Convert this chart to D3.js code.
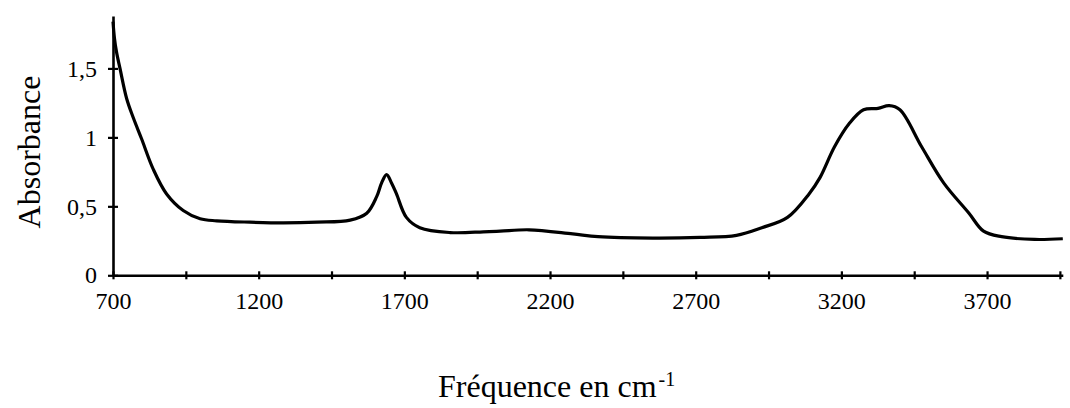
<!DOCTYPE html>
<html>
<head>
<meta charset="utf-8">
<script src="https://cdn.jsdelivr.net/npm/d3@7"></script>
<style>
  html, body { margin: 0; padding: 0; background: #fff; }
  svg { display: block; }
  text { font-family: "Liberation Serif", "Times New Roman", serif; fill: #000; }
</style>
</head>
<body>
<svg id="chart" width="1070" height="408"></svg>
<script>
// Wavenumber (cm-1) and absorbance values
const frequency = [700, 705, 712, 724, 747, 770, 798, 838, 884, 941, 999, 1056, 1170, 1285, 1400, 1514, 1571, 1605, 1622, 1639, 1656, 1673, 1707, 1753, 1857, 1971, 2029, 2128, 2278, 2365, 2553, 2715, 2840, 2927, 3015, 3089, 3127, 3176, 3227, 3276, 3326, 3364, 3401, 3476, 3551, 3638, 3688, 3750, 3863, 3960];
const absorbance = [1.84, 1.72, 1.62, 1.50, 1.28, 1.14, 0.99, 0.77, 0.59, 0.47, 0.41, 0.395, 0.385, 0.38, 0.385, 0.40, 0.45, 0.57, 0.67, 0.73, 0.67, 0.59, 0.42, 0.345, 0.31, 0.315, 0.32, 0.33, 0.30, 0.28, 0.27, 0.275, 0.29, 0.345, 0.42, 0.59, 0.71, 0.93, 1.10, 1.20, 1.21, 1.23, 1.20, 0.93, 0.67, 0.45, 0.32, 0.28, 0.26, 0.265];

const xTicks = [700, 950, 1200, 1450, 1700, 1950, 2200, 2450, 2700, 2950, 3200, 3450, 3700, 3950];
const xTickLabels = [700, 1200, 1700, 2200, 2700, 3200, 3700];
const yTicks = [0, 0.5, 1, 1.5];
const xTitle = "Fréquence en cm";
const xTitleSup = "-1";
const yTitle = "Absorbance";

const svg = d3.select("#chart");
const plotLeft = 113, plotRight = 1062.8, plotBottom = 275.3, plotTop = 16;

const x = d3.scaleLinear().domain([700, 3960]).range([plotLeft, plotRight]);
const y = d3.scaleLinear().domain([0, 1.88]).range([plotBottom, plotTop]);

// X axis
const xAxis = svg.append("g")
  .attr("transform", `translate(0,${plotBottom})`)
  .call(d3.axisBottom(x)
    .tickValues(xTicks)
    .tickSizeOuter(0)
    .tickFormat(d => xTickLabels.includes(d) ? String(d) : ""));
xAxis.select(".domain").attr("stroke", "#000").attr("stroke-width", 2.6);
xAxis.selectAll(".tick line").attr("y1", -4).attr("y2", 4).attr("stroke", "#000").attr("stroke-width", 2.2);
xAxis.selectAll(".tick text").attr("y", 34).attr("dy", 0).style("font-size", "24px").attr("fill", "#000");

// Y axis
const yAxis = svg.append("g")
  .attr("transform", `translate(${plotLeft},0)`)
  .call(d3.axisLeft(y)
    .tickValues(yTicks)
    .tickSizeOuter(0)
    .tickFormat(d => String(d).replace(".", ",")));
yAxis.select(".domain").attr("stroke", "#000").attr("stroke-width", 2.6);
yAxis.selectAll(".tick line").attr("x1", -5).attr("x2", 5).attr("stroke", "#000").attr("stroke-width", 2.2);
yAxis.selectAll(".tick text").attr("x", -16).attr("dy", "0.32em").style("font-size", "24px").attr("fill", "#000");

// Curve
const line = d3.line()
  .x((d, i) => x(frequency[i]))
  .y((d, i) => y(absorbance[i]))
  .curve(d3.curveCatmullRom.alpha(0.5));
svg.append("path")
  .datum(frequency)
  .attr("d", line)
  .attr("fill", "none")
  .attr("stroke", "#000")
  .attr("stroke-width", 3.2)
  .attr("stroke-linejoin", "round");

// Y title
svg.append("text")
  .attr("transform", "translate(40,152) rotate(-90)")
  .attr("text-anchor", "middle")
  .style("font-size", "32px")
  .text(yTitle);

// X title
const xt = svg.append("text")
  .attr("x", 438).attr("y", 397)
  .style("font-size", "32px");
xt.append("tspan").text(xTitle);
xt.append("tspan").attr("dy", -11).attr("dx", 2).style("font-size", "20px").text(xTitleSup);
</script>
</body>
</html>
